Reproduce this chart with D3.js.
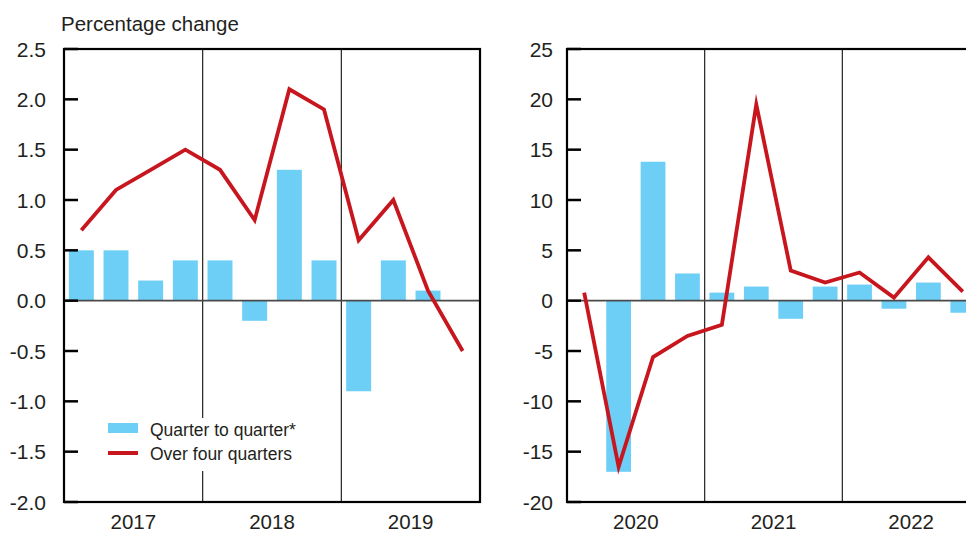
<!DOCTYPE html>
<html>
<head>
<meta charset="utf-8">
<script src="https://cdn.jsdelivr.net/npm/d3@7"></script>
<style>
  body { margin: 0; background: #fff; }
  svg { display: block; font-family: "Liberation Sans", Arial, sans-serif; }
</style>
</head>
<body>
<svg id="chart" width="966" height="534"></svg>
<script>
// quarters for each panel
const leftYears = ['2017', '2018', '2019'];
const rightYears = ['2020', '2021', '2022'];
const quarterNames = ['Q1', 'Q2', 'Q3', 'Q4'];

// quarter to quarter change (bars)
const leftQoQ = [0.5, 0.5, 0.2, 0.4, 0.4, -0.2, 1.3, 0.4, -0.9, 0.4, 0.1, 0.0];
const rightQoQ = [0.0, -17.0, 13.8, 2.7, 0.8, 1.4, -1.8, 1.4, 1.6, -0.8, 1.8, -1.2];

// change over four quarters (line)
const leftAnnual = [0.7, 1.1, 1.3, 1.5, 1.3, 0.8, 2.1, 1.9, 0.6, 1.0, 0.1, -0.5];
const rightAnnual = [0.8, -16.5, -5.6, -3.5, -2.4, 19.5, 3.0, 1.8, 2.8, 0.3, 4.3, 0.9];

// y tick labels
const leftTicks = [2.5, 2.0, 1.5, 1.0, 0.5, 0.0, -0.5, -1.0, -1.5, -2.0];
const rightTicks = [25, 20, 15, 10, 5, 0, -5, -10, -15, -20];

const legendLabels = ['Quarter to quarter*', 'Over four quarters'];

const barColor = '#6dcff6';
const lineColor = '#c8161e';
const textColor = '#231f20';

const svg = d3.select('#chart');
const plotTop = 49, plotBottom = 502;

// Function to draw one panel
function drawPanel(opts) {
    const quarters = [];
    opts.years.forEach(y => quarterNames.forEach(q => quarters.push(y + q)));

    const x = d3.scaleBand().domain(quarters).range([opts.x0, opts.x1]).paddingInner(0.28).paddingOuter(0.14);
    const y = d3.scaleLinear().domain([opts.ticks[opts.ticks.length - 1], opts.ticks[0]]).range([plotBottom, plotTop]);
    const step = (opts.x1 - opts.x0) / quarters.length;

    const g = svg.append('g');

    // bars
    g.selectAll('rect.bar')
        .data(opts.bars)
        .enter().append('rect')
        .attr('class', 'bar')
        .attr('x', (d, i) => x(quarters[i]))
        .attr('width', x.bandwidth())
        .attr('y', d => y(Math.max(0, d)))
        .attr('height', d => Math.abs(y(d) - y(0)))
        .attr('fill', barColor);

    // year separators
    opts.years.slice(1).forEach((yr, i) => {
        const sx = opts.x0 + step * 4 * (i + 1);
        g.append('line')
            .attr('x1', sx).attr('x2', sx)
            .attr('y1', plotTop).attr('y2', plotBottom)
            .attr('stroke', '#222').attr('stroke-width', 1.2);
    });

    // zero line
    g.append('line')
        .attr('x1', opts.x0).attr('x2', opts.x1)
        .attr('y1', y(0)).attr('y2', y(0))
        .attr('stroke', '#4a4a4a').attr('stroke-width', 1.6);

    // line
    const line = d3.line()
        .x((d, i) => x(quarters[i]) + x.bandwidth() / 2)
        .y(d => y(d));
    g.append('path')
        .datum(opts.line)
        .attr('d', line)
        .attr('fill', 'none')
        .attr('stroke', lineColor)
        .attr('stroke-width', 3.8)
        .attr('stroke-linejoin', 'miter')
        .attr('stroke-miterlimit', 10);

    // legend
    if (opts.legend) {
        g.append('rect')
            .attr('x', 100).attr('y', 418).attr('width', 210).attr('height', 53)
            .attr('fill', '#fff');
        g.append('rect')
            .attr('x', 108).attr('y', 423).attr('width', 30).attr('height', 10)
            .attr('fill', barColor);
        g.append('line')
            .attr('x1', 108).attr('x2', 138).attr('y1', 453).attr('y2', 453)
            .attr('stroke', lineColor).attr('stroke-width', 4);
        legendLabels.forEach((t, i) => {
            g.append('text')
                .attr('x', 150).attr('y', 430 + i * 24)
                .attr('dy', '0.35em')
                .attr('font-size', 17.5)
                .attr('fill', textColor)
                .text(t);
        });
    }

    // frame
    g.append('rect')
        .attr('x', opts.x0).attr('y', plotTop)
        .attr('width', opts.x1 - opts.x0).attr('height', plotBottom - plotTop)
        .attr('fill', 'none').attr('stroke', '#000').attr('stroke-width', 2.2);

    // y ticks (inside) and labels
    opts.ticks.forEach(t => {
        g.append('line')
            .attr('x1', opts.x0).attr('x2', opts.x0 + 14)
            .attr('y1', y(t)).attr('y2', y(t))
            .attr('stroke', '#000').attr('stroke-width', 2.5);
        g.append('text')
            .attr('x', opts.labelX).attr('y', y(t))
            .attr('dy', '0.36em')
            .attr('text-anchor', 'end')
            .attr('font-size', 21)
            .attr('fill', textColor)
            .text(opts.fmt(t));
    });

    // year labels
    opts.years.forEach((yr, i) => {
        g.append('text')
            .attr('x', opts.x0 + step * (4 * i + 2))
            .attr('y', 529)
            .attr('text-anchor', 'middle')
            .attr('font-size', 20.5)
            .attr('fill', textColor)
            .text(yr);
    });
}

drawPanel({
    years: leftYears, bars: leftQoQ, line: leftAnnual, ticks: leftTicks,
    x0: 64, x1: 480, labelX: 46, fmt: v => v.toFixed(1), legend: true
});

drawPanel({
    years: rightYears, bars: rightQoQ, line: rightAnnual, ticks: rightTicks,
    x0: 567, x1: 980, labelX: 553, fmt: v => String(v), legend: false
});

// axis title
svg.append('text')
    .attr('x', 61).attr('y', 31)
    .attr('font-size', 20.5)
    .attr('fill', textColor)
    .text('Percentage change');
</script>
</body>
</html>
